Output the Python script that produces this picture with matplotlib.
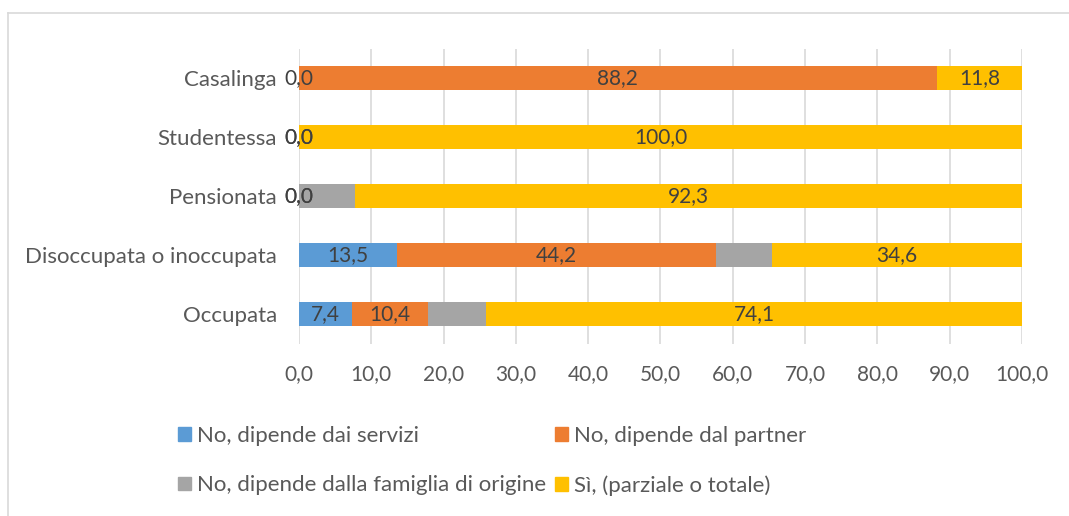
import matplotlib
matplotlib.use('Agg')
import matplotlib.pyplot as plt
from matplotlib.patches import Patch
from matplotlib.lines import Line2D
import numpy as np

plt.rcParams['font.family'] = ['Lato', 'DejaVu Sans']

categorie = ['Occupata', 'Disoccupata o inoccupata', 'Pensionata', 'Studentessa', 'Casalinga']
servizi = [7.4, 13.5, 0.0, 0.0, 0.0]
partner = [10.4, 44.2, 0.0, 0.0, 88.2]
famiglia = [8.1, 7.7, 7.7, 0.0, 0.0]
si = [74.1, 34.6, 92.3, 100.0, 11.8]

serie = ['No, dipende dai servizi', 'No, dipende dal partner',
         'No, dipende dalla famiglia di origine', 'Sì, (parziale o totale)']
colori = ['#5B9BD5', '#ED7D31', '#A5A5A5', '#FFC000']
xticks = np.arange(0, 101, 10)

testo = '#595959'

fig = plt.figure(figsize=(10.69, 5.16), dpi=100)
ax = fig.add_axes([0.2797, 0.3343, 0.9560 - 0.2797, 0.906 - 0.3343])

y = np.arange(len(categorie))
left = np.zeros(len(categorie))
valori = [servizi, partner, famiglia, si]
for i, vals in enumerate(valori):
    vals = np.array(vals)
    ax.barh(y, vals, left=left, height=0.39, color=colori[i], zorder=2)
    # la famiglia di origine non ha etichette
    if i != 2:
        for j in range(len(y)):
            if vals[j] == 0 and i == 3:
                continue
            ax.text(left[j] + vals[j] / 2, y[j], f'{vals[j]:.1f}'.replace('.', ','),
                    ha='center', va='center', fontsize=15, color='#404040', zorder=3)
    left = left + vals

ax.set_xlim(0, 100)
ax.set_ylim(-0.5, len(categorie) - 0.5)
ax.set_xticks(xticks)
ax.set_xticklabels([f'{v:.1f}'.replace('.', ',') for v in xticks])
ax.set_yticks(y)
ax.set_yticklabels(categorie)
ax.tick_params(axis='x', length=0, pad=14.5, labelsize=15, labelcolor=testo)
ax.tick_params(axis='y', length=0, pad=16, labelsize=16, labelcolor=testo)
ax.grid(axis='x', color='#D9D9D9', linewidth=1.2, zorder=0)
for s in ax.spines.values():
    s.set_visible(False)

handles = [Patch(color=colori[k], label=serie[k]) for k in [0, 2, 1, 3]]
fig.legend(handles=handles, ncol=2, loc='upper left', bbox_to_anchor=(0.1665, 0.1744),
           frameon=False, fontsize=16, labelcolor=testo, handlelength=0.59,
           handleheight=0.59, handletextpad=0.27, columnspacing=0.4, labelspacing=1.32,
           borderaxespad=0, borderpad=0)

# cornice del grafico
fig.add_artist(Line2D([8 / 1069, 8 / 1069], [0, 1 - 13 / 516], color='#D9D9D9', linewidth=1.2))
fig.add_artist(Line2D([8 / 1069, 1], [1 - 13 / 516, 1 - 13 / 516], color='#D9D9D9', linewidth=1.2))

fig.savefig('out.png', dpi=100)
